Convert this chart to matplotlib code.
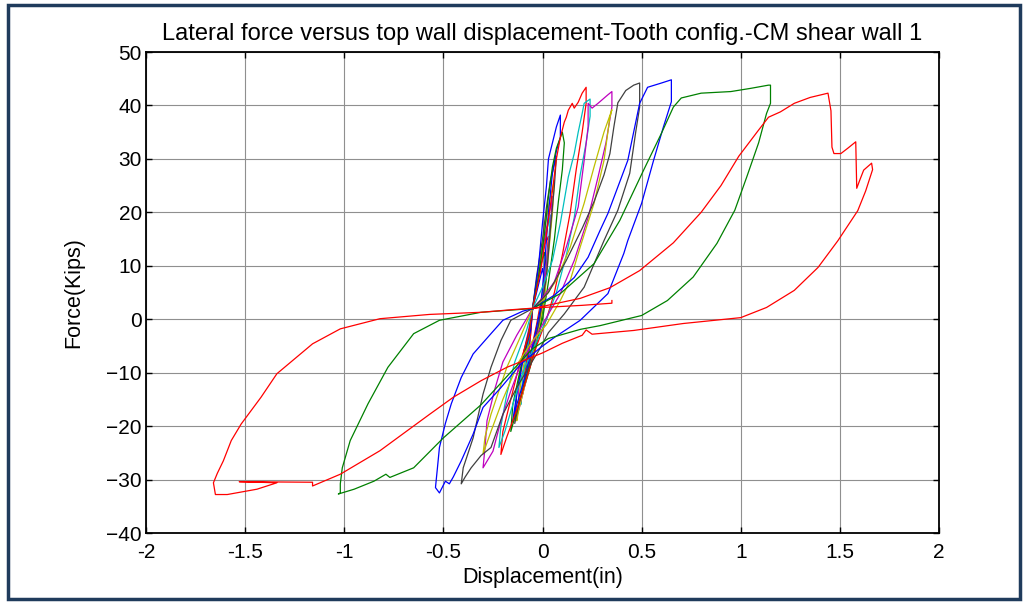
import matplotlib
matplotlib.use('Agg')
import matplotlib.pyplot as plt
from matplotlib.patches import Rectangle

plt.rcParams['font.family'] = ['Liberation Sans', 'DejaVu Sans']

# MATLAB default colour order (b, g, r, c, m, y, k)
COLORS = {'b': '#0000ff', 'g': '#008000', 'r': '#ff0000', 'c': '#00bfbf',
          'm': '#bf00bf', 'y': '#bfbf00', 'k': '#404040'}

# ---- cycle data (displacement in, force kips) ----
c1_x = [-0.05, -0.03, -0.01, 0.00, 0.01, 0.00, -0.02, -0.05, -0.07, -0.08, -0.07, -0.05]
c1_y = [2.0, 5.0, 8.0, 9.5, 7.0, 3.0, -1.0, -5.0, -9.0, -11.0, -7.0, 2.0]
c2_x = [-0.05, -0.03, -0.01, 0.01, 0.02, 0.01, -0.01, -0.04, -0.07, -0.09, -0.08, -0.05]
c2_y = [2.0, 6.0, 10.0, 12.5, 9.0, 4.0, -1.0, -6.0, -10.0, -12.5, -8.0, 2.0]
c3_x = [-0.05, -0.03, -0.01, 0.01, 0.03, 0.02, 0.00, -0.03, -0.07, -0.10, -0.09, -0.06, -0.05]
c3_y = [2.0, 6.0, 11.0, 14.0, 15.5, 11.0, 5.0, -1.0, -8.0, -14.0, -10.0, -3.0, 2.0]
c4_x = [-0.05, -0.03, -0.01, 0.01, 0.03, 0.04, 0.03, 0.01, -0.02, -0.06, -0.10, -0.11, -0.10, -0.07, -0.05]
c4_y = [2.0, 6.0, 11.0, 15.0, 18.0, 19.5, 14.0, 7.0, 0.0, -7.0, -13.0, -16.0, -11.0, -4.0, 2.0]
c5_x = [-0.05, -0.03, 0.00, 0.02, 0.04, 0.05, 0.04, 0.02, 0.00, -0.04, -0.08, -0.12, -0.12, -0.10, -0.07, -0.05]
c5_y = [2.0, 7.0, 13.0, 17.0, 21.0, 23.0, 17.0, 10.0, 3.0, -5.0, -11.0, -17.0, -13.0, -7.0, -2.0, 2.0]
c6_x = [-0.05, -0.03, 0.00, 0.02, 0.04, 0.06, 0.05, 0.03, 0.01, -0.03, -0.08, -0.12, -0.13, -0.11, -0.07, -0.05]
c6_y = [2.0, 7.0, 14.0, 19.0, 23.0, 26.0, 20.0, 12.0, 4.0, -4.0, -11.0, -17.0, -19.0, -12.0, -3.0, 2.0]
c7_x = [-0.05, -0.03, 0.00, 0.02, 0.04, 0.06, 0.07, 0.06, 0.04, 0.02, -0.02, -0.07, -0.12, -0.14, -0.13, -0.10, -0.06, -0.05]
c7_y = [2.0, 8.0, 15.0, 21.0, 26.0, 29.0, 30.5, 25.0, 17.0, 8.0, -1.0, -9.0, -16.0, -19.5, -14.0, -7.0, -1.0, 2.0]
c8_x = [-0.05, -0.02, 0.00, 0.02, 0.03, 0.05, 0.07, 0.09, 0.09, 0.07, 0.05, 0.03, 0.01, -0.01, -0.05, -0.09, -0.13, -0.15, -0.13, -0.10, -0.06, -0.05]
c8_y = [2.0, 10.0, 18.0, 25.0, 30.0, 33.0, 36.0, 38.2, 34.0, 31.5, 27.3, 20.0, 10.0, 2.0, -5.0, -11.0, -16.0, -19.0, -14.0, -8.0, -2.0, 2.0]
c9_x = [-0.05, -0.02, 0.01, 0.03, 0.05, 0.07, 0.10, 0.11, 0.10, 0.08, 0.06, 0.03, 0.00, -0.04, -0.09, -0.13, -0.16, -0.15, -0.11, -0.07, -0.05]
c9_y = [2.0, 8.0, 16.0, 23.0, 28.5, 32.0, 35.0, 33.0, 28.0, 22.0, 15.0, 7.0, 0.0, -6.0, -12.0, -17.0, -21.0, -16.0, -9.0, -3.0, 2.0]
c10_x = [-0.05, -0.01, 0.02, 0.05, 0.07, 0.09, 0.11, 0.12, 0.13, 0.15, 0.16, 0.18, 0.20, 0.22, 0.22, 0.20, 0.17, 0.14, 0.10, 0.06, 0.02, -0.03, -0.08, -0.13, -0.18, -0.21, -0.20, -0.16, -0.12, -0.07, -0.05]
c10_y = [2.0, 9.0, 16.0, 24.0, 30.0, 34.0, 36.9, 37.8, 39.1, 40.4, 39.5, 40.6, 42.3, 43.4, 40.4, 35.0, 28.0, 20.0, 12.0, 5.0, 0.0, -5.0, -11.0, -17.0, -22.0, -25.3, -21.0, -15.0, -9.0, -3.0, 2.0]
c11_x = [-0.05, 0.00, 0.05, 0.09, 0.13, 0.16, 0.18, 0.20, 0.21, 0.24, 0.24, 0.22, 0.19, 0.16, 0.12, 0.07, 0.02, -0.04, -0.10, -0.15, -0.19, -0.22, -0.21, -0.18, -0.14, -0.08, -0.05]
c11_y = [2.0, 6.0, 11.0, 18.0, 26.6, 31.0, 35.0, 38.5, 40.4, 41.2, 38.0, 33.0, 27.0, 19.0, 12.0, 5.0, 0.0, -5.0, -10.0, -16.0, -21.0, -24.0, -20.0, -14.0, -8.0, -2.0, 2.0]
c12_x = [-0.05, 0.00, 0.06, 0.12, 0.18, 0.21, 0.23, 0.23, 0.25, 0.28, 0.33, 0.35, 0.35, 0.32, 0.28, 0.23, 0.16, 0.09, 0.03, -0.03, -0.11, -0.16, -0.21, -0.25, -0.30, -0.29, -0.28, -0.24, -0.20, -0.13, -0.05]
c12_y = [2.0, 4.0, 7.0, 13.5, 21.0, 29.7, 36.0, 40.4, 39.5, 40.4, 42.0, 42.6, 39.7, 33.0, 26.6, 19.0, 11.0, 4.8, 1.0, -3.0, -8.4, -13.4, -19.0, -24.7, -27.8, -24.0, -19.0, -13.0, -8.0, -3.0, 2.0]
c13_x = [-0.05, 0.00, 0.07, 0.14, 0.21, 0.26, 0.31, 0.35, 0.34, 0.31, 0.26, 0.19, 0.14, 0.09, 0.02, -0.05, -0.12, -0.20, -0.26, -0.30, -0.29, -0.26, -0.18, -0.12, -0.05]
c13_y = [2.0, 3.5, 7.3, 13.5, 21.7, 28.5, 35.0, 39.2, 37.8, 29.7, 21.7, 13.5, 7.3, 3.5, -1.0, -4.0, -8.0, -15.0, -21.0, -25.2, -22.0, -17.8, -9.0, -4.0, 2.0]
c14_x = [-0.05, 0.03, 0.12, 0.20, 0.26, 0.31, 0.34, 0.36, 0.38, 0.42, 0.46, 0.49, 0.49, 0.47, 0.44, 0.38, 0.31, 0.21, 0.11, 0.03, -0.01, -0.06, -0.13, -0.20, -0.26, -0.31, -0.36, -0.39, -0.41, -0.40, -0.35, -0.30, -0.26, -0.21, -0.16, -0.05]
c14_y = [2.0, 5.0, 11.0, 17.0, 22.0, 27.0, 31.0, 36.0, 40.5, 42.8, 43.8, 44.2, 39.7, 35.0, 27.3, 20.4, 14.7, 6.0, 1.0, -2.5, -5.3, -8.4, -12.8, -17.8, -24.0, -25.5, -27.8, -29.5, -30.8, -27.8, -22.2, -14.0, -9.0, -4.0, -0.2, 2.0]
c15_x = [-0.05, 0.06, 0.16, 0.23, 0.29, 0.33, 0.43, 0.49, 0.53, 0.60, 0.65, 0.65, 0.61, 0.56, 0.50, 0.43, 0.41, 0.33, 0.19, 0.06, -0.01, -0.11, -0.21, -0.30, -0.35, -0.41, -0.45, -0.47, -0.49, -0.52, -0.54, -0.53, -0.52, -0.49, -0.46, -0.41, -0.35, -0.26, -0.20, -0.10, -0.05]
c15_y = [2.0, 4.5, 7.8, 11.6, 16.6, 19.8, 29.7, 40.4, 43.4, 44.2, 44.8, 40.7, 36.0, 29.7, 21.7, 14.7, 12.3, 4.8, -0.2, -3.4, -5.3, -8.4, -12.8, -16.5, -21.5, -26.5, -29.5, -30.8, -30.3, -32.5, -31.5, -27.8, -24.0, -19.5, -15.8, -10.9, -6.5, -2.7, -0.2, 1.5, 2.0]
c16_x = [-0.05, 0.09, 0.26, 0.39, 0.51, 0.60, 0.66, 0.70, 0.80, 0.95, 1.05, 1.14, 1.15, 1.15, 1.13, 1.09, 1.03, 0.97, 0.88, 0.76, 0.63, 0.50, 0.29, 0.19, 0.03, -0.05, -0.15, -0.31, -0.50, -0.65, -0.77, -0.79, -0.85, -0.95, -1.03, -1.02, -1.02, -1.01, -0.97, -0.88, -0.78, -0.65, -0.52, -0.31, -0.05]
c16_y = [2.0, 4.8, 10.4, 18.5, 27.9, 34.8, 39.7, 41.4, 42.3, 42.6, 43.2, 43.8, 43.8, 40.4, 38.5, 33.0, 26.6, 20.4, 14.2, 7.9, 3.5, 0.7, -1.2, -1.9, -3.6, -5.5, -9.5, -16.0, -22.2, -27.8, -29.6, -29.0, -30.3, -31.8, -32.7, -32.5, -30.8, -27.8, -22.7, -15.8, -9.0, -2.7, -0.2, 1.3, 2.0]
c17_x = [-0.05, 0.05, 0.19, 0.34, 0.49, 0.66, 0.80, 0.90, 0.99, 1.09, 1.14, 1.20, 1.27, 1.35, 1.44, 1.455, 1.46, 1.47, 1.505, 1.54, 1.58, 1.585, 1.60, 1.62, 1.66, 1.665, 1.63, 1.59, 1.49, 1.39, 1.27, 1.13, 1.00, 0.71, 0.46, 0.25, 0.22, 0.20, 0.10, 0.00, -0.18, -0.31, -0.45, -0.57, -0.82, -1.02, -1.16, -1.16, -1.53, -1.34, -1.44, -1.59, -1.65, -1.66, -1.64, -1.61, -1.57, -1.52, -1.42, -1.34, -1.16, -1.02, -0.82, -0.57, -0.31, -0.15, 0.00, 0.20, 0.35, 0.35]
c17_y = [2.0, 2.8, 3.9, 5.9, 9.1, 14.3, 20.0, 25.0, 30.5, 35.4, 37.8, 38.8, 40.4, 41.5, 42.3, 39.0, 32.2, 31.0, 31.0, 32.0, 33.2, 24.5, 26.0, 27.9, 29.2, 28.0, 24.0, 20.3, 14.7, 9.7, 5.4, 2.2, 0.3, -0.8, -2.1, -2.8, -2.0, -3.0, -4.5, -6.3, -9.0, -11.5, -14.6, -17.8, -24.6, -29.0, -31.2, -30.5, -30.4, -30.6, -31.8, -32.8, -32.8, -30.6, -28.8, -26.5, -22.7, -19.6, -14.6, -10.2, -4.6, -1.8, 0.1, 0.9, 1.3, 1.8, 2.2, 2.6, 3.0, 3.5]

cycles = [(c1_x, c1_y), (c2_x, c2_y), (c3_x, c3_y), (c4_x, c4_y), (c5_x, c5_y),
          (c6_x, c6_y), (c7_x, c7_y), (c8_x, c8_y), (c9_x, c9_y), (c10_x, c10_y),
          (c11_x, c11_y), (c12_x, c12_y), (c13_x, c13_y), (c14_x, c14_y),
          (c15_x, c15_y), (c16_x, c16_y), (c17_x, c17_y)]
color_order = ['b', 'g', 'r', 'c', 'm', 'y', 'k']

x_ticks = [-2, -1.5, -1, -0.5, 0, 0.5, 1, 1.5, 2]
x_ticklabels = ['-2', '-1.5', '-1', '-0.5', '0', '0.5', '1', '1.5', '2']
y_ticks = [-40, -30, -20, -10, 0, 10, 20, 30, 40, 50]


fig = plt.figure(figsize=(10.24, 6.02), dpi=100)
ax = fig.add_axes([0.1426, 0.1146, 0.7744, 0.799])

for i, (xs, ys) in enumerate(cycles):
    ax.plot(xs, ys, color=COLORS[color_order[i % 7]], lw=0.9)

ax.set_xlim(-2, 2)
ax.set_ylim(-40, 50)
ax.set_xticks(x_ticks)
ax.set_xticklabels(x_ticklabels)
ax.set_yticks(y_ticks)
ax.grid(True, color='#8f8f8f', lw=0.8, ls='-')
ax.set_axisbelow(True)
ax.tick_params(direction='in', top=True, right=True, length=4, width=1,
               labelsize=15)
ax.tick_params(axis='x', pad=7)
ax.tick_params(axis='y', pad=3)
for s in ax.spines.values():
    s.set_linewidth(1.3)

ax.set_title('Lateral force versus top wall displacement-Tooth config.-CM shear wall 1',
             fontsize=17, pad=9)
ax.set_xlabel('Displacement(in)', fontsize=15.5, labelpad=4)
ax.set_ylabel('Force(Kips)', fontsize=15.5, labelpad=16)

# outer frame
fig.patches.append(Rectangle((8 / 1024, 3 / 602), 1012 / 1024, 594 / 602,
                             transform=fig.transFigure, fill=False,
                             edgecolor='#1f3b5c', lw=2.5))

fig.savefig('out.png', dpi=100)
